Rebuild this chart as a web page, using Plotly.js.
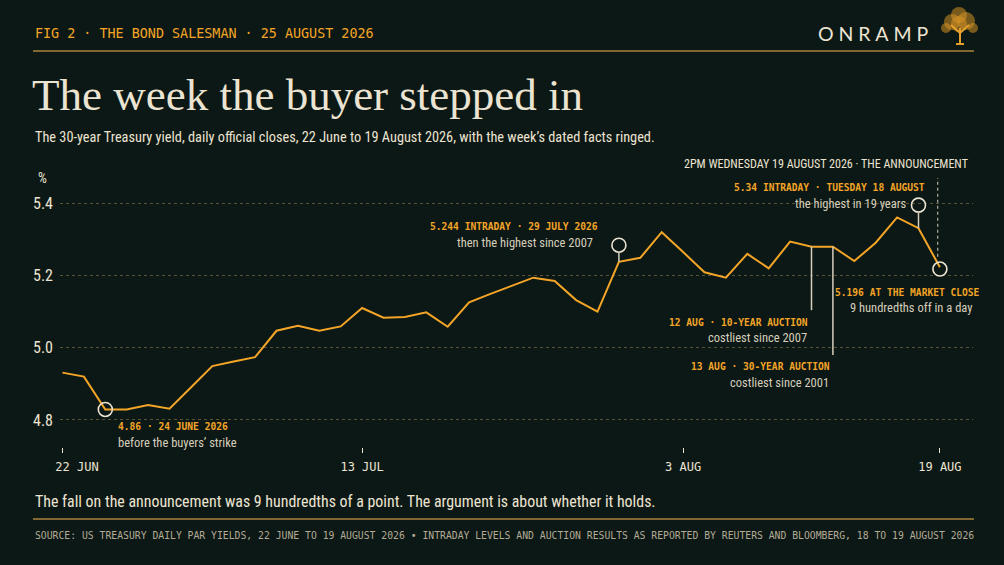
<!DOCTYPE html>
<html>
<head>
<meta charset="utf-8">
<script src="https://cdn.plot.ly/plotly-3.0.1.min.js"></script>
<style>
  html, body { margin: 0; padding: 0; background: #0c1815; }
  #chart { width: 1004px; height: 565px; }
</style>
</head>
<body>
<div id="chart"></div>
<script>
// 30-year Treasury daily closes, 22 Jun to 19 Aug 2026 (3 Jul market holiday)
const sessions = [
  '2026-06-22','2026-06-23','2026-06-24','2026-06-25','2026-06-26','2026-06-29','2026-06-30',
  '2026-07-01','2026-07-02','2026-07-06','2026-07-07','2026-07-08','2026-07-09','2026-07-10',
  '2026-07-13','2026-07-14','2026-07-15','2026-07-16','2026-07-17','2026-07-20','2026-07-21',
  '2026-07-22','2026-07-23','2026-07-24','2026-07-27','2026-07-28','2026-07-29','2026-07-30',
  '2026-07-31','2026-08-03','2026-08-04','2026-08-05','2026-08-06','2026-08-07','2026-08-10',
  '2026-08-11','2026-08-12','2026-08-13','2026-08-14','2026-08-17','2026-08-18','2026-08-19'
];
const closes = [
  4.931, 4.920, 4.829, 4.829, 4.841, 4.831, 4.890,
  4.949, 4.962, 4.974, 5.047, 5.061, 5.047, 5.059,
  5.110, 5.083, 5.085, 5.098, 5.058, 5.126, 5.149,
  5.171, 5.194, 5.185, 5.132, 5.100, 5.238, 5.249,
  5.320, 5.265, 5.209, 5.194, 5.260, 5.220, 5.294,
  5.280, 5.280, 5.240, 5.291, 5.361, 5.331, 5.223
];

// ringed facts (where the rings sit in the picture)
const ringDates  = ['2026-06-24', '2026-07-29', '2026-08-18', '2026-08-19'];
const ringLevels = [4.829, 5.284, 5.395, 5.218];
const stemmed    = [false, true, true, false];

// auction leaders: session the leader hangs from, and how far down it drops
const auctionDates = ['2026-08-11', '2026-08-12'];
const auctionFoot  = [5.104, 4.980];

const tickDates  = ['2026-06-22', '2026-07-13', '2026-08-03', '2026-08-19'];
const tickLabels = ['22 JUN', '13 JUL', '3 AUG', '19 AUG'];
const yTicks = [4.8, 5.0, 5.2, 5.4];

const BG = '#0c1815', ORANGE = '#f4a527', CREAM = '#ece4d2', SOFT = '#d6cebc', GOLD = '#a8823a';
const SANS = '"Liberation Sans Narrow", "Roboto Condensed", Roboto, sans-serif';
const MONO = '"DejaVu Sans Mono", monospace';
const SERIF = '"Liberation Serif", serif';

// plot box in pixels, and pixel -> paper helpers for the free text
const L = 60, T = 160, W = 913, H = 287;
const px = x => (x - L) / W;
const py = y => (T + H - y) / H;

const idx = d => sessions.indexOf(d);

function note(text, x, y, anchor, font) {
  return { text, x: px(x), y: py(y), xref: 'paper', yref: 'paper',
           xanchor: anchor, yanchor: 'middle', showarrow: false, font };
}
const orange = { family: MONO, size: 9.6, color: ORANGE, weight: 'bold' };
const soft = { family: SANS, size: 12.5, color: SOFT };

const annotations = [
  note('FIG 2 \u00b7 THE BOND SALESMAN \u00b7 25 AUGUST 2026', 33, 33, 'left', { family: MONO, size: 13.4, color: ORANGE }),
  note('O\u2009\u2009N\u2009\u2009R\u2009\u2009A\u2009\u2009M\u2009\u2009P', 816, 33, 'left', { family: 'Lato, "Open Sans", sans-serif', size: 19.5, color: CREAM }),
  note('The week the buyer stepped in', 30, 95, 'left', { family: SERIF, size: 45, color: CREAM }),
  note('The 30-year Treasury yield, daily official closes, 22 June to 19 August 2026, with the week\u2019s dated facts ringed.', 33, 137, 'left', { family: SANS, size: 14.3, color: CREAM }),
  note('%', 42, 178, 'center', { family: SANS, size: 14, color: CREAM }),

  note('4.86 \u00b7 24 JUNE 2026', 116, 426, 'left', orange),
  note('before the buyers\u2019 strike', 116, 442, 'left', soft),
  note('5.244 INTRADAY \u00b7 29 JULY 2026', 600, 226, 'right', orange),
  note('then the highest since 2007', 595, 242, 'right', soft),
  note('2PM WEDNESDAY 19 AUGUST 2026 \u00b7 THE ANNOUNCEMENT', 970, 164, 'right', { family: SANS, size: 12, color: CREAM }),
  note('5.34 INTRADAY \u00b7 TUESDAY 18 AUGUST', 927, 187, 'right', orange),
  note('the highest in 19 years', 908, 203, 'right', soft),
  note('5.196 AT THE MARKET CLOSE', 982, 292, 'right', orange),
  note('9 hundredths off in a day', 974, 307, 'right', soft),
  note('12 AUG \u00b7 10-YEAR AUCTION', 810, 322, 'right', orange),
  note('costliest since 2007', 809, 337, 'right', soft),
  note('13 AUG \u00b7 30-YEAR AUCTION', 832, 366, 'right', orange),
  note('costliest since 2001', 831, 382, 'right', soft),

  note('The fall on the announcement was 9 hundredths of a point. The argument is about whether it holds.', 33, 501, 'left', { family: SANS, size: 15.9, color: CREAM }),
  note('SOURCE: US TREASURY DAILY PAR YIELDS, 22 JUNE TO 19 AUGUST 2026 \u2022 INTRADAY LEVELS AND AUCTION RESULTS AS REPORTED BY REUTERS AND BLOOMBERG, 18 TO 19 AUGUST 2026', 33, 535, 'left', { family: MONO, size: 9.75, color: '#b3ab96' })
];

const shapes = [
  // rules
  { type: 'line', xref: 'paper', yref: 'paper', x0: px(33), x1: px(974), y0: py(51), y1: py(51), line: { color: GOLD, width: 1.5 } },
  { type: 'line', xref: 'paper', yref: 'paper', x0: px(33), x1: px(974), y0: py(519), y1: py(519), line: { color: GOLD, width: 1.5 } },
  // the announcement, 2pm on the last session
  { type: 'line', xref: 'x', yref: 'y', x0: 40.9, x1: 40.9, y0: 5.252, y1: 5.47, line: { color: SOFT, width: 1, dash: '3px,3px' } }
];

// little tree beside the wordmark
const crown = [[952, 22, 8], [966, 21, 9], [959, 15, 8], [946, 28, 5], [973, 28, 5], [959, 24, 8]];
crown.forEach(([cx, cy, r]) => shapes.push({
  type: 'circle', xref: 'paper', yref: 'paper', x0: px(cx - r), x1: px(cx + r), y0: py(cy + r), y1: py(cy - r),
  fillcolor: 'rgba(212,146,36,0.55)', line: { width: 0 }
}));
[[960, 44, 960, 28], [960, 33, 951, 25], [960, 33, 969, 25], [956, 44, 964, 44]].forEach(([x0, y0, x1, y1]) => shapes.push({
  type: 'line', xref: 'paper', yref: 'paper', x0: px(x0), x1: px(x1), y0: py(y0), y1: py(y1), line: { color: '#e6a12c', width: 2 }
}));

auctionDates.forEach((d, i) => {
  const k = idx(d);
  shapes.push({ type: 'line', xref: 'x', yref: 'y', x0: k, x1: k, y0: closes[k], y1: auctionFoot[i], line: { color: SOFT, width: 1.5 } });
});
ringDates.forEach((d, i) => {
  if (!stemmed[i]) return;
  const k = idx(d);
  shapes.push({ type: 'line', xref: 'x', yref: 'y', x0: k, x1: k, y0: closes[k], y1: ringLevels[i] - 0.019, line: { color: SOFT, width: 1.5 } });
});

const traces = [
  {
    type: 'scatter', mode: 'lines', x: sessions.map((d, i) => i), y: closes,
    line: { color: ORANGE, width: 2 }, hoverinfo: 'skip'
  },
  {
    type: 'scatter', mode: 'markers', x: ringDates.map(idx), y: ringLevels,
    marker: { symbol: 'circle-open', size: 14, color: CREAM, line: { width: 1.6, color: CREAM } },
    hoverinfo: 'skip'
  }
];

const layout = {
  width: 1004, height: 565,
  margin: { l: L, r: 1004 - L - W, t: T, b: 565 - T - H },
  paper_bgcolor: BG, plot_bgcolor: BG,
  showlegend: false,
  xaxis: {
    range: [-0.117, 42.547], showgrid: false, zeroline: false, showline: false,
    tickmode: 'array', tickvals: tickDates.map(idx),
    // first label sits clear of the left edge, as in the original
    ticktext: tickLabels.map((t, i) => i === 0 ? '\u00a0'.repeat(4) + t : t),
    ticks: 'outside', ticklen: 5, tickwidth: 1, tickcolor: CREAM,
    ticklabelstandoff: 4,
    tickfont: { family: MONO, size: 12, color: CREAM }
  },
  yaxis: {
    range: [4.725, 5.52], tickmode: 'array', tickvals: yTicks, ticktext: yTicks.map(v => v.toFixed(1)),
    showgrid: true, gridcolor: '#5a5232', griddash: 'dot', gridwidth: 1,
    zeroline: false, showline: false, ticks: '',
    ticklabelstandoff: 6,
    tickfont: { family: SANS, size: 16, color: CREAM }
  },
  shapes, annotations
};

Plotly.newPlot('chart', traces, layout, { staticPlot: true, displayModeBar: false });
</script>
</body>
</html>
